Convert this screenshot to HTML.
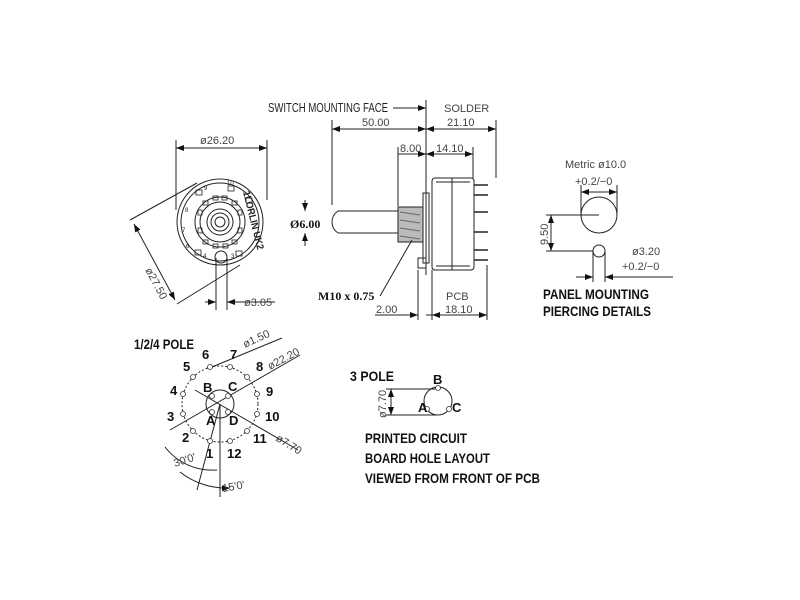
<!DOCTYPE html>
<html><head><meta charset="utf-8"><style>
html,body{margin:0;padding:0;background:#fff;}
svg{display:block;}
text{font-family:"Liberation Sans",sans-serif;fill:#222;}
.t{font-size:11px;fill:#444;}
.b{font-size:13px;font-weight:bold;fill:#111;}
.h{font-size:14px;font-weight:bold;fill:#111;}
.s{font-family:"Liberation Serif",serif;font-weight:bold;font-size:12px;fill:#111;}
</style></head><body>
<svg width="800" height="600" viewBox="0 0 800 600" xmlns="http://www.w3.org/2000/svg">
<defs>
<marker id="a" markerWidth="8" markerHeight="6" refX="8" refY="3" orient="auto" markerUnits="userSpaceOnUse"><path d="M0,0 L8,3 L0,6z" fill="#111"/></marker>
<marker id="r" markerWidth="8" markerHeight="6" refX="0" refY="3" orient="auto" markerUnits="userSpaceOnUse"><path d="M8,0 L0,3 L8,6z" fill="#111"/></marker>
</defs>
<g stroke="#222" stroke-width="1" fill="none">
<line x1="176" y1="140" x2="176" y2="210"/><line x1="267" y1="140" x2="267" y2="200"/>
<line x1="176" y1="148" x2="267" y2="148" marker-start="url(#r)" marker-end="url(#a)"/>
<circle cx="220" cy="222" r="43"/><circle cx="220" cy="222" r="39"/>
<circle cx="220" cy="222" r="25"/><circle cx="220" cy="222" r="20"/>
<circle cx="220" cy="222" r="13"/><circle cx="220" cy="222" r="9"/><circle cx="220" cy="222" r="5"/>
<g stroke-width="0.8">
<rect x="196" y="190" width="6" height="5"/><rect x="228" y="186" width="6" height="5"/><rect x="246" y="198" width="6" height="5"/>
<rect x="195" y="250" width="6" height="5"/><rect x="236" y="251" width="6" height="5"/>
<rect x="213" y="196" width="5" height="4"/><rect x="222" y="196" width="5" height="4"/><rect x="232" y="201" width="5" height="4"/><rect x="203" y="201" width="5" height="4"/>
<rect x="198" y="210" width="4" height="5"/><rect x="198" y="228" width="4" height="5"/><rect x="238" y="210" width="4" height="5"/><rect x="238" y="228" width="4" height="5"/>
<rect x="203" y="240" width="5" height="4"/><rect x="213" y="244" width="5" height="4"/><rect x="223" y="244" width="5" height="4"/><rect x="232" y="240" width="5" height="4"/>
</g>
<circle cx="221" cy="257" r="6"/>
<line x1="216" y1="258" x2="216" y2="310"/><line x1="227" y1="258" x2="227" y2="310"/>
<line x1="205" y1="302" x2="216" y2="302" marker-end="url(#a)"/><line x1="227" y1="302" x2="275" y2="302" marker-start="url(#r)"/>
<line x1="130" y1="220" x2="197" y2="183"/><line x1="177" y1="304" x2="240" y2="265"/>
<line x1="134" y1="224" x2="175" y2="300" marker-start="url(#r)" marker-end="url(#a)"/>
<line x1="426" y1="100" x2="426" y2="275"/>
<line x1="332" y1="120" x2="332" y2="205"/>
<line x1="332" y1="129" x2="426" y2="129" marker-start="url(#r)" marker-end="url(#a)"/>
<line x1="426" y1="129" x2="496" y2="129" marker-start="url(#r)" marker-end="url(#a)"/>
<line x1="496" y1="120" x2="496" y2="178"/>
<line x1="393" y1="108" x2="426" y2="108" marker-end="url(#a)"/>
<line x1="398" y1="147" x2="398" y2="206"/><line x1="473" y1="147" x2="473" y2="178"/>
<line x1="398" y1="154" x2="426" y2="154" marker-end="url(#a)"/>
<line x1="426" y1="154" x2="473" y2="154" marker-start="url(#r)" marker-end="url(#a)"/>
<path d="M338,211 L398,211 L398,233 L338,233 Q332,229 332,222 Q332,215 338,211z"/>
<rect x="398" y="207" width="25" height="35" fill="#bbb"/>
<path d="M400,212 l20,3 M400,220 l20,3 M400,228 l20,3 M400,236 l20,3" stroke="#666"/>
<rect x="423" y="193" width="6" height="70"/>
<rect x="418" y="258" width="8" height="10"/>
<rect x="432" y="178" width="42" height="92" rx="3"/>
<line x1="436" y1="182" x2="470" y2="182"/><line x1="436" y1="266" x2="470" y2="266"/><line x1="452" y1="178" x2="452" y2="270"/>
<g stroke-width="1.5"><line x1="474" y1="185" x2="488" y2="185"/><line x1="474" y1="195" x2="488" y2="195"/><line x1="474" y1="212" x2="488" y2="212"/><line x1="474" y1="232" x2="488" y2="232"/><line x1="474" y1="250" x2="488" y2="250"/><line x1="474" y1="260" x2="488" y2="260"/></g>
<line x1="305" y1="200" x2="305" y2="211" marker-end="url(#a)"/><line x1="305" y1="233" x2="305" y2="246" marker-start="url(#r)"/>
<line x1="380" y1="296" x2="412" y2="240"/>
<line x1="418" y1="270" x2="418" y2="320"/><line x1="432" y1="270" x2="432" y2="320"/><line x1="487" y1="265" x2="487" y2="320"/>
<line x1="375" y1="315" x2="418" y2="315" marker-end="url(#a)"/><line x1="426" y1="315" x2="432" y2="315"/>
<line x1="432" y1="315" x2="487" y2="315" marker-start="url(#r)" marker-end="url(#a)"/>
<circle cx="599" cy="215" r="18"/><circle cx="599" cy="251" r="6"/>
<line x1="581" y1="185" x2="581" y2="215"/><line x1="617" y1="185" x2="617" y2="215"/>
<line x1="581" y1="192" x2="617" y2="192" marker-start="url(#r)" marker-end="url(#a)"/>
<line x1="546" y1="215" x2="599" y2="215"/><line x1="546" y1="251" x2="593" y2="251"/>
<line x1="551" y1="215" x2="551" y2="251" marker-start="url(#r)" marker-end="url(#a)"/>
<line x1="593" y1="251" x2="593" y2="282"/><line x1="605" y1="251" x2="605" y2="282"/>
<line x1="576" y1="277" x2="593" y2="277" marker-end="url(#a)"/><line x1="605" y1="277" x2="673" y2="277" marker-start="url(#r)"/>
<circle cx="220" cy="404" r="38" stroke-dasharray="2 2"/>
<circle cx="220" cy="404" r="14"/>
<line x1="170" y1="430" x2="300" y2="355"/>
<line x1="195" y1="390" x2="298" y2="450"/>
<line x1="220" y1="404" x2="220" y2="497"/>
<line x1="220" y1="404" x2="197" y2="490"/>
<line x1="212" y1="367" x2="282" y2="338"/>
<path d="M165,447 A60,60 0 0 0 217,470" />
<path d="M180,472 A75,75 0 0 0 230,488" marker-end="url(#a)"/>
<circle cx="438" cy="401" r="14"/>
<line x1="386" y1="389" x2="438" y2="389"/><line x1="386" y1="415" x2="438" y2="415"/>
<line x1="391" y1="389" x2="391" y2="415" marker-start="url(#r)" marker-end="url(#a)"/>
</g>
<g fill="#fff" stroke="#333" stroke-width="0.8">
<circle cx="438" cy="388" r="2.5"/><circle cx="427" cy="409" r="2.5"/><circle cx="449" cy="409" r="2.5"/>
<circle cx="212" cy="396" r="2.5"/><circle cx="228" cy="396" r="2.5"/><circle cx="212" cy="412" r="2.5"/><circle cx="228" cy="412" r="2.5"/>
<circle cx="210" cy="441" r="2.5"/><circle cx="230" cy="441" r="2.5"/>
<circle cx="193" cy="431" r="2.5"/><circle cx="247" cy="431" r="2.5"/>
<circle cx="183" cy="414" r="2.5"/><circle cx="257" cy="414" r="2.5"/>
<circle cx="183" cy="394" r="2.5"/><circle cx="257" cy="394" r="2.5"/>
<circle cx="193" cy="377" r="2.5"/><circle cx="247" cy="377" r="2.5"/>
<circle cx="210" cy="367" r="2.5"/><circle cx="230" cy="367" r="2.5"/>
</g>
<text class="t" x="200" y="144">ø26.20</text>
<text class="t" x="244" y="306">ø3.05</text>
<text class="t" transform="translate(145,270) rotate(62)">ø27.50</text>
<text x="185" y="212" font-size="6">8</text><text x="204" y="190" font-size="6">9</text><text x="227" y="185" font-size="6">10</text>
<text x="182" y="232" font-size="6">7</text><text x="186" y="248" font-size="6">6</text><text x="203" y="258" font-size="6">4</text><text x="231" y="258" font-size="6">3</text>
<text transform="translate(243,192) rotate(76)" font-size="10" font-weight="bold" textLength="60" lengthAdjust="spacingAndGlyphs">1LORLIN UK2</text>
<text x="268" y="112" font-size="12.5" fill="#444" textLength="120" lengthAdjust="spacingAndGlyphs">SWITCH MOUNTING  FACE</text>
<text class="t" x="362" y="126">50.00</text>
<text class="t" x="444" y="112">SOLDER</text>
<text class="t" x="447" y="126">21.10</text>
<text class="t" x="400" y="152">8.00</text>
<text class="t" x="436" y="152">14.10</text>
<text class="s" x="290" y="228">Ø6.00</text>
<text class="s" x="318" y="300">M10 x 0.75</text>
<text class="t" x="446" y="300">PCB</text>
<text class="t" x="376" y="313">2.00</text>
<text class="t" x="445" y="313">18.10</text>
<text class="t" x="565" y="168">Metric  ø10.0</text>
<text class="t" x="575" y="185">+0.2/−0</text>
<text class="t" transform="translate(548,245) rotate(-90)">9.50</text>
<text class="t" x="632" y="255">ø3.20</text>
<text class="t" x="622" y="270">+0.2/−0</text>
<text class="h" x="543" y="299" textLength="106" lengthAdjust="spacingAndGlyphs">PANEL MOUNTING</text>
<text class="h" x="543" y="316" textLength="108" lengthAdjust="spacingAndGlyphs">PIERCING DETAILS</text>
<text class="h" x="134" y="349" textLength="60" lengthAdjust="spacingAndGlyphs">1/2/4 POLE</text>
<text class="b" x="202" y="359">6</text><text class="b" x="230" y="359">7</text><text class="b" x="183" y="371">5</text><text class="b" x="256" y="371">8</text>
<text class="b" x="170" y="395">4</text><text class="b" x="266" y="396">9</text><text class="b" x="167" y="421">3</text><text class="b" x="265" y="421">10</text>
<text class="b" x="182" y="442">2</text><text class="b" x="253" y="443">11</text><text class="b" x="206" y="458">1</text><text class="b" x="227" y="458">12</text>
<text class="b" x="203" y="392">B</text><text class="b" x="228" y="391">C</text><text class="b" x="206" y="425">A</text><text class="b" x="229" y="425">D</text>
<text class="t" transform="translate(245,348) rotate(-25)">ø1.50</text>
<text class="t" transform="translate(270,370) rotate(-28)">ø22.20</text>
<text class="t" transform="translate(275,440) rotate(32)">ø7.70</text>
<text class="t" transform="translate(175,467) rotate(-18)">30'0'</text>
<text class="t" transform="translate(223,492) rotate(-10)">15'0'</text>
<text class="h" x="350" y="381" textLength="44" lengthAdjust="spacingAndGlyphs">3 POLE</text>
<text class="t" transform="translate(386,418) rotate(-90)">ø7.70</text>
<text class="b" x="433" y="384" font-size="11">B</text><text class="b" x="418" y="412" font-size="11">A</text><text class="b" x="452" y="412" font-size="11">C</text>
<text class="h" x="365" y="443" textLength="102" lengthAdjust="spacingAndGlyphs">PRINTED CIRCUIT</text>
<text class="h" x="365" y="463" textLength="125" lengthAdjust="spacingAndGlyphs">BOARD HOLE LAYOUT</text>
<text class="h" x="365" y="483" textLength="175" lengthAdjust="spacingAndGlyphs">VIEWED FROM FRONT OF PCB</text>
</svg>
</body></html>
